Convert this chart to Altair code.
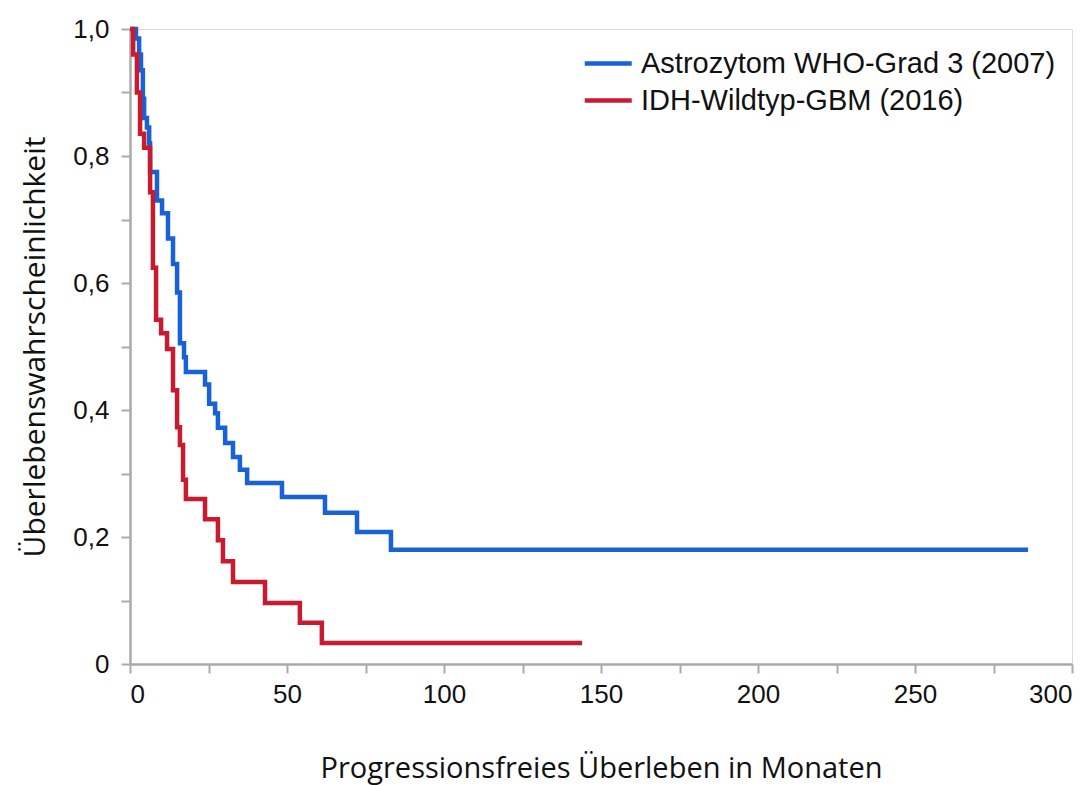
import altair as alt
import pandas as pd

# Kaplan-Meier step curves: event times (months) and survival after each step
astro_t = [0, 1.9, 2.9, 3.5, 4.1, 4.5, 5.4, 6.1, 6.4, 8.6, 10.2, 12.1, 13.7, 15.0, 15.9,
           17.2, 17.8, 23.9, 25.2, 27.1, 28.0, 30.3, 32.8, 35.0, 37.3, 48.4, 62.1, 72.3,
           83.1, 286]
astro_s = [1.0, 0.985, 0.96, 0.935, 0.89, 0.86, 0.845, 0.82, 0.775, 0.73, 0.71, 0.67, 0.63,
           0.585, 0.505, 0.483, 0.46, 0.44, 0.41, 0.395, 0.372, 0.348, 0.326, 0.306, 0.285,
           0.263, 0.238, 0.208, 0.18, 0.18]

gbm_t = [0, 1.0, 2.2, 3.2, 4.5, 6.4, 7.3, 8.3, 9.9, 11.8, 13.7, 15.0, 15.9, 16.9, 17.8,
         23.9, 28.0, 29.6, 32.8, 43.0, 54.1, 61.1, 144]
gbm_s = [1.0, 0.96, 0.90, 0.835, 0.813, 0.743, 0.624, 0.542, 0.521, 0.496, 0.431, 0.373,
         0.345, 0.29, 0.26, 0.228, 0.195, 0.162, 0.129, 0.096, 0.065, 0.033, 0.033]

groups = ["Astrozytom WHO-Grad 3 (2007)", "IDH-Wildtyp-GBM (2016)"]
colors = ["#1862d6", "#c91b2f"]

df = pd.concat([
    pd.DataFrame({"t": astro_t, "s": astro_s, "g": groups[0], "o": range(len(astro_t))}),
    pd.DataFrame({"t": gbm_t, "s": gbm_s, "g": groups[1], "o": range(len(gbm_t))}),
])

x_ticks = list(range(0, 301, 25))
y_ticks = [i / 10 for i in range(0, 11)]

axis_common = dict(
    domainColor="#aaaaaa", domainWidth=2.5, tickColor="#aaaaaa", tickWidth=2,
    tickSize=9, labelFont="Liberation Sans", labelFontSize=26, labelColor="#111111",
    grid=False, titleColor="#111111",
)

chart = alt.Chart(df).mark_line(interpolate="step-after", strokeWidth=4.5, strokeCap="butt").encode(
    x=alt.X("t:Q", scale=alt.Scale(domain=[0, 300], nice=False),
            axis=alt.Axis(values=x_ticks,
                          labelExpr="datum.value % 50 == 0 ? datum.label : ''",
                          title="Progressionsfreies Überleben in Monaten",
                          titleFont="Open Sans", titleFontSize=29, titleFontWeight="normal",
                          titlePadding=47, labelPadding=8, **axis_common)),
    y=alt.Y("s:Q", scale=alt.Scale(domain=[0, 1], nice=False),
            axis=alt.Axis(values=y_ticks,
                          labelExpr="datum.value == 0 ? '0' : (round(datum.value * 10) % 2 == 0 ? replace(format(datum.value, '.1f'), '.', ',') : '')",
                          title="Überlebenswahrscheinlichkeit",
                          titleFont="Open Sans", titleFontSize=30, titleFontWeight="normal",
                          titlePadding=22, labelPadding=12, **axis_common)),
    color=alt.Color("g:N", scale=alt.Scale(domain=groups, range=colors),
                    legend=alt.Legend(title=None, orient="none", legendX=452, legendY=20,
                                      symbolType="M-1,0H3", symbolSize=552, symbolStrokeWidth=4.5,
                                      labelFont="Liberation Sans", labelFontSize=29,
                                      labelColor="#111111", labelLimit=700, labelOffset=30,
                                      rowPadding=7)),
    order="o:Q",
).properties(
    width=942, height=635,
    autosize=alt.AutoSizeParams(type="none"),
    padding={"left": 130, "top": 29, "right": 20, "bottom": 121},
).configure_view(stroke="#aaaaaa", strokeWidth=2.5).configure(background="white")

chart.save("out.html", embed_options={"renderer": "svg", "actions": False})
